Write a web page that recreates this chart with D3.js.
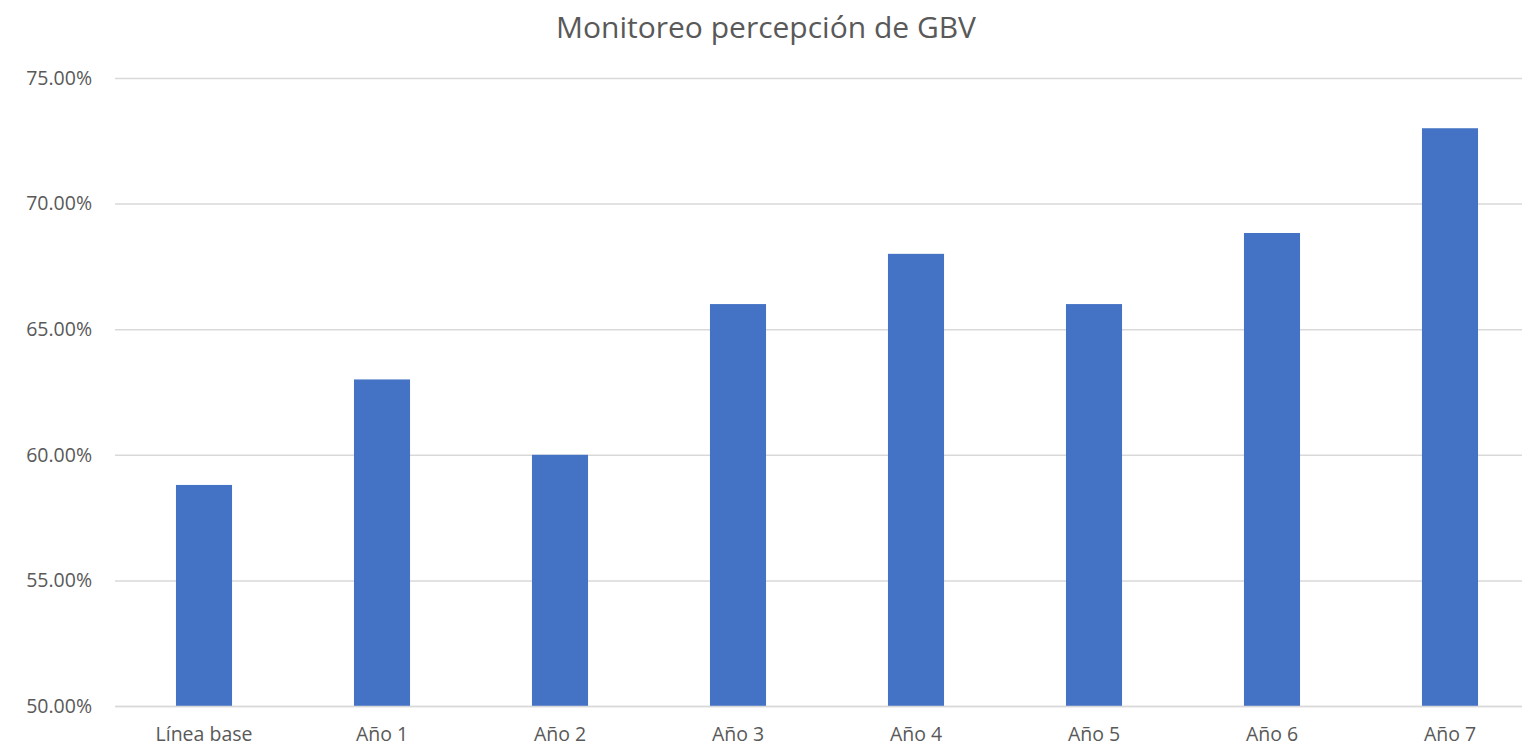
<!DOCTYPE html>
<html><head><meta charset="utf-8">
<script src="https://cdn.jsdelivr.net/npm/d3@7"></script>
<style>body{margin:0;background:#fff;}svg{display:block;}</style>
</head><body>
<svg id="c" width="1522" height="751"></svg>
<script>
const categories = ["Línea base","Año 1","Año 2","Año 3","Año 4","Año 5","Año 6","Año 7"];
const values = [0.588, 0.63, 0.60, 0.66, 0.68, 0.66, 0.6883, 0.73];
const yTicks = [0.50, 0.55, 0.60, 0.65, 0.70, 0.75];
const title = "Monitoreo percepción de GBV";

(function(){
const svg = d3.select("#c");
const font = "'Open Sans', 'Liberation Sans', sans-serif";
const mL = 115, mR = 1539, mT = 78, mB = 706;
const x = d3.scaleBand().domain(categories).range([mL, mR]).paddingInner(0.685).paddingOuter(0.3425);
const y = d3.scaleLinear().domain([0.5, 0.75]).range([mB, mT]);

svg.append("text").attr("x", 766).attr("y", 38).attr("text-anchor","middle")
  .attr("font-family", font).attr("font-size", 30).attr("fill","#595959").text(title);

const ya = svg.append("g").attr("transform",`translate(${mL},0)`)
  .call(d3.axisLeft(y).tickValues(yTicks).tickFormat(d3.format(".2%")).tickSize(-(mR-mL)).tickPadding(23));
ya.select(".domain").remove();
ya.selectAll("line").attr("stroke","#d9d9d9").attr("stroke-width",1.5);
ya.selectAll("text").attr("font-family",font).attr("font-size",19.5).attr("fill","#595959");

svg.append("g").selectAll("rect").data(values).join("rect")
  .attr("x",(d,i)=>x(categories[i])).attr("width",x.bandwidth())
  .attr("y",d=>y(d)).attr("height",d=>y(0.5)-y(d)).attr("fill","#4472c4");

const xa = svg.append("g").attr("transform",`translate(0,${mB})`)
  .call(d3.axisBottom(x).tickSize(0).tickPadding(21));
xa.select(".domain").attr("stroke","#d9d9d9").attr("stroke-width",1.5);
xa.selectAll("text").attr("font-family",font).attr("font-size",19.5).attr("fill","#595959");
})();
</script>
</body></html>
